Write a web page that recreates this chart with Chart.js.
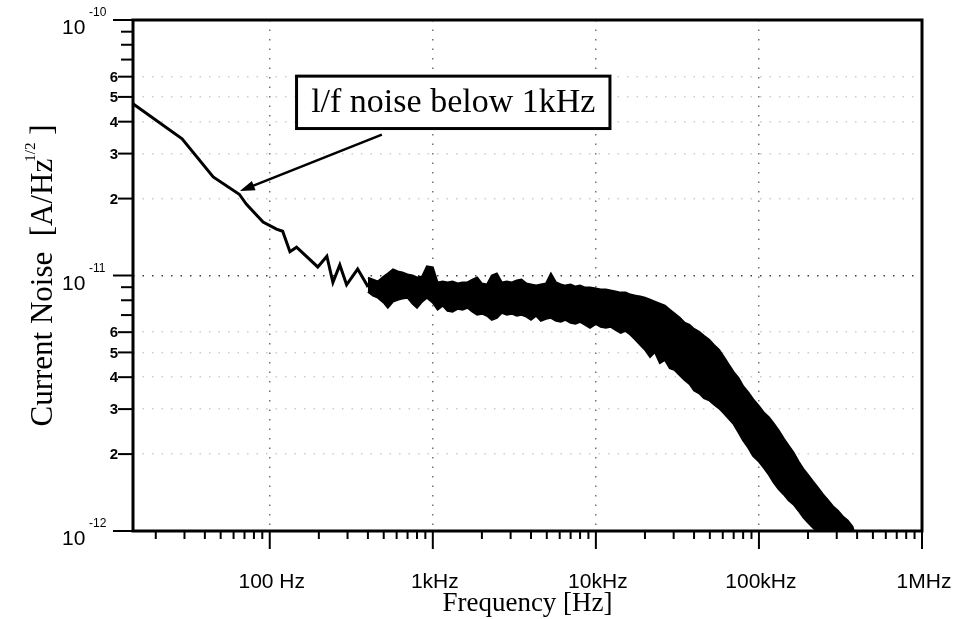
<!DOCTYPE html>
<html>
<head>
<meta charset="utf-8">
<script src="https://cdn.jsdelivr.net/npm/chart.js@4.4.1/dist/chart.umd.min.js"></script>
<style>
  html, body { margin: 0; padding: 0; background: #fff; }
</style>
</head>
<body>
<canvas id="noiseChart" width="957" height="619"></canvas>
<script>
// values; noise in pA/sqrt(Hz)
var lowFreq  = [14.5, 15, 29, 45, 65, 72, 91, 110, 120, 133, 146, 197, 224, 244, 269, 296, 346, 394, 400];
var lowNoise = [47, 46.3, 34.3, 24.3, 20.8, 19.0, 16.2, 15.2, 14.9, 12.4, 12.9, 10.8, 11.9, 9.4, 11.0, 9.2, 10.6, 9.2, 9.0];

// the noisy band above ~400 Hz: upper and lower edge of the trace
var bandFreq = [
  400, 430, 460, 500, 530, 570, 610, 650, 700, 750,
  800, 860, 920, 1000, 1070, 1150, 1230, 1320, 1420, 1520,
  1630, 1750, 1870, 2000, 2150, 2300, 2470, 2650, 2840, 3050,
  3270, 3500, 3750, 4000, 4300, 4600, 4950, 5300, 5700, 6100,
  6500, 7000, 7500, 8000, 8600, 9200, 10000, 10700, 11500, 12300,
  13200, 14200, 15200, 16300, 17500, 18700, 20000, 21500, 23000, 24700,
  26500, 28400, 30500, 32700, 35000, 37500, 40000, 43000, 46000, 49500,
  53000, 57000, 61000, 65000, 70000, 75000, 80000, 86000, 92000, 100000,
  107000, 115000, 123000, 132000, 142000, 152000, 163000, 175000, 187000, 200000,
  215000, 230000, 247000, 265000, 284000, 305000, 327000, 350000, 375000, 390000
];
var bandUpper = [
  9.8, 9.64, 9.47, 9.91, 10.18, 10.56, 10.37, 10.27, 10.09, 10.0,
  9.82, 9.91, 10.85, 10.75, 9.39, 9.47, 9.39, 9.47, 9.30, 9.39,
  9.39, 9.64, 9.82, 9.30, 9.22, 10.0, 10.18, 9.39, 9.47, 9.39,
  9.56, 9.64, 9.30, 9.22, 9.13, 9.22, 9.30, 10.18, 9.39, 9.22,
  9.13, 9.22, 9.05, 9.13, 8.97, 8.97, 8.89, 8.81, 8.81, 8.73,
  8.65, 8.57, 8.57, 8.42, 8.34, 8.27, 8.19, 8.04, 7.90, 7.76,
  7.62, 7.35, 7.09, 6.83, 6.53, 6.41, 6.18, 6.02, 5.81, 5.60,
  5.35, 5.12, 4.80, 4.50, 4.19, 3.97, 3.69, 3.49, 3.28, 3.08,
  2.91, 2.79, 2.64, 2.48, 2.30, 2.16, 2.03, 1.87, 1.75, 1.66,
  1.56, 1.48, 1.39, 1.32, 1.25, 1.20, 1.14, 1.10, 1.04, 0.95
];
var bandLower = [
  8.65, 8.34, 8.19, 7.83, 7.48, 7.90, 8.04, 8.12, 8.19, 7.76,
  7.48, 7.90, 8.19, 7.83, 7.35, 7.62, 7.28, 7.22, 7.41, 7.35,
  7.48, 7.22, 7.02, 7.09, 6.96, 6.71, 6.83, 7.15, 7.02, 7.09,
  6.96, 7.02, 6.90, 6.71, 6.96, 6.65, 6.77, 6.83, 6.65, 6.59,
  6.71, 6.53, 6.47, 6.59, 6.41, 6.24, 6.47, 6.30, 6.24, 6.30,
  6.13, 5.96, 6.07, 5.86, 5.60, 5.35, 5.12, 4.80, 5.02, 4.54,
  4.67, 4.34, 4.26, 4.07, 3.90, 3.76, 3.55, 3.46, 3.31, 3.25,
  3.13, 3.02, 2.89, 2.76, 2.62, 2.43, 2.26, 2.12, 1.97, 1.87,
  1.77, 1.66, 1.55, 1.46, 1.39, 1.32, 1.27, 1.20, 1.13, 1.08,
  1.03, 0.99, 0.96, 0.95, 0.95, 0.95, 0.95, 0.95, 0.95, 0.95
];

var xTickValues = [100, 1000, 10000, 100000, 1000000];
var xTickLabels = ['100 Hz', '1kHz', '10kHz', '100kHz', '1MHz'];
var yDecades = [1e-12, 1e-11, 1e-10];
var yDecadeExponents = ['-12', '-11', '-10'];
var yMantissaLabels = ['2', '3', '4', '5', '6'];

var PA = 1e-12;
var SANS = '"Liberation Sans", Arial, sans-serif';
var SERIF = '"Liberation Serif", "Times New Roman", serif';

function toPoints(xs, ys) {
  return xs.map(function(x, i) { return { x: x, y: ys[i] * PA }; });
}

function decadeTicks(first, last) {
  var out = [];
  for (var d = first; d < last * 0.999; d *= 10) {
    for (var m = 1; m <= 9; m++) out.push({ value: m * d });
  }
  out.push({ value: last });
  return out;
}

function mantissa(v) {
  var e = Math.floor(Math.log10(v) + 1e-9);
  return Math.round(v / Math.pow(10, e));
}

function line(ctx, x1, y1, x2, y2) {
  ctx.beginPath();
  ctx.moveTo(x1, y1);
  ctx.lineTo(x2, y2);
  ctx.stroke();
}

var decorPlugin = {
  id: 'decor',
  afterDraw: function(chart) {
    var ctx = chart.ctx;
    var area = chart.chartArea;
    var xs = chart.scales.x;
    var ys = chart.scales.y;
    ctx.save();

    // frame
    ctx.strokeStyle = '#000';
    ctx.lineWidth = 3;
    ctx.strokeRect(area.left, area.top, area.right - area.left, area.bottom - area.top);

    // x ticks below the axis
    ctx.lineWidth = 2;
    xs.ticks.forEach(function(t) {
      var px = xs.getPixelForValue(t.value);
      var major = xTickValues.indexOf(t.value) >= 0;
      line(ctx, px, area.bottom, px, area.bottom + (major ? 18 : 8));
    });
    ctx.fillStyle = '#000';
    ctx.font = '21px ' + SANS;
    ctx.textAlign = 'center';
    ctx.textBaseline = 'alphabetic';
    xTickValues.forEach(function(v, i) {
      ctx.fillText(xTickLabels[i], xs.getPixelForValue(v) + 2, 588);
    });

    // y ticks left of the axis
    ys.ticks.forEach(function(t) {
      var py = ys.getPixelForValue(t.value);
      var m = mantissa(t.value);
      var len = m === 1 ? 20 : (m <= 6 ? 15 : 12);
      line(ctx, area.left - len, py, area.left, py);
    });
    ctx.textAlign = 'right';
    ctx.font = 'bold 15px ' + SANS;
    ctx.textBaseline = 'middle';
    ys.ticks.forEach(function(t) {
      var m = mantissa(t.value);
      var idx = yMantissaLabels.indexOf(String(m));
      if (idx >= 0) ctx.fillText(yMantissaLabels[idx], area.left - 15, ys.getPixelForValue(t.value) + 1);
    });
    yDecades.forEach(function(v, i) {
      var py = ys.getPixelForValue(v);
      ctx.textAlign = 'left';
      ctx.textBaseline = 'alphabetic';
      ctx.font = '21px ' + SANS;
      ctx.fillText('10', 62, py + 14);
      ctx.font = '12px ' + SANS;
      ctx.fillText(yDecadeExponents[i], 89, py - 4);
    });

    // axis titles
    ctx.font = '27px ' + SERIF;
    ctx.textAlign = 'center';
    ctx.fillText('Frequency [Hz]', (area.left + area.right) / 2, 611);

    ctx.save();
    ctx.translate(52, 274);
    ctx.rotate(-Math.PI / 2);
    var partA = 'Current Noise  [A/Hz';
    var partC = ' ]';
    ctx.font = '31px ' + SERIF;
    var wA = ctx.measureText(partA).width;
    var wC = ctx.measureText(partC).width;
    ctx.font = '15px ' + SERIF;
    var wB = ctx.measureText('1/2').width;
    var x0 = -(wA + wB + wC) / 2;
    ctx.textAlign = 'left';
    ctx.font = '31px ' + SERIF;
    ctx.fillText(partA, x0, 0);
    ctx.font = '15px ' + SERIF;
    ctx.fillText('1/2', x0 + wA - 3, -17);
    ctx.font = '31px ' + SERIF;
    ctx.fillText(partC, x0 + wA + wB - 3, 0);
    ctx.restore();

    // annotation box and arrow
    var bx1 = xs.getPixelForValue(146), bx2 = xs.getPixelForValue(12200);
    var by1 = ys.getPixelForValue(6.03e-11), by2 = ys.getPixelForValue(3.76e-11);
    ctx.fillStyle = '#fff';
    ctx.fillRect(bx1, by1, bx2 - bx1, by2 - by1);
    ctx.lineWidth = 3;
    ctx.strokeRect(bx1, by1, bx2 - bx1, by2 - by1);
    ctx.fillStyle = '#000';
    ctx.font = '34px ' + SERIF;
    ctx.textAlign = 'center';
    ctx.textBaseline = 'middle';
    ctx.fillText('l/f noise below 1kHz', (bx1 + bx2) / 2, (by1 + by2) / 2 + 1);

    var ax1 = xs.getPixelForValue(487), ay1 = ys.getPixelForValue(3.56e-11);
    var ax2 = xs.getPixelForValue(65.5), ay2 = ys.getPixelForValue(2.14e-11);
    var ang = Math.atan2(ay2 - ay1, ax2 - ax1);
    ctx.lineWidth = 2.5;
    line(ctx, ax1, ay1, ax2 - 10 * Math.cos(ang), ay2 - 10 * Math.sin(ang));
    ctx.beginPath();
    ctx.moveTo(ax2, ay2);
    ctx.lineTo(ax2 - 15 * Math.cos(ang) + 5 * Math.sin(ang), ay2 - 15 * Math.sin(ang) - 5 * Math.cos(ang));
    ctx.lineTo(ax2 - 15 * Math.cos(ang) - 5 * Math.sin(ang), ay2 - 15 * Math.sin(ang) + 5 * Math.cos(ang));
    ctx.closePath();
    ctx.fill();

    ctx.restore();
  }
};

new Chart(document.getElementById('noiseChart'), {
  type: 'line',
  data: {
    datasets: [
      {
        data: toPoints(lowFreq, lowNoise),
        borderColor: '#000',
        borderWidth: 3,
        pointRadius: 0,
        fill: false
      },
      {
        data: toPoints(bandFreq, bandUpper),
        borderColor: '#000',
        borderWidth: 2,
        pointRadius: 0,
        fill: false
      },
      {
        data: toPoints(bandFreq, bandLower),
        borderColor: '#000',
        borderWidth: 2,
        backgroundColor: '#000',
        pointRadius: 0,
        fill: '-1'
      }
    ]
  },
  options: {
    responsive: false,
    animation: false,
    events: [],
    layout: { padding: { left: 0, right: 35, top: 20, bottom: 0 } },
    plugins: {
      legend: { display: false },
      tooltip: { enabled: false }
    },
    scales: {
      x: {
        type: 'logarithmic',
        min: 14.5,
        max: 1e6,
        afterBuildTicks: function(scale) { scale.ticks = decadeTicks(10, 1e6).filter(function(t) { return t.value >= 20; }); },
        afterFit: function(scale) { scale.height = 88; },
        ticks: { display: false },
        border: { display: false, dash: [1.5, 8] },
        grid: {
          drawTicks: false,
          lineWidth: 1.5,
          color: function(c) {
            var v = c.tick && c.tick.value;
            return (xTickValues.indexOf(v) >= 0 && v < 1e6) ? 'rgba(0,0,0,0.55)' : 'rgba(0,0,0,0)';
          }
        }
      },
      y: {
        type: 'logarithmic',
        min: 1e-12,
        max: 1e-10,
        afterBuildTicks: function(scale) { scale.ticks = decadeTicks(1e-12, 1e-10); },
        afterFit: function(scale) { scale.width = 133; },
        ticks: { display: false },
        border: { display: false, dash: [1.5, 8] },
        grid: {
          drawTicks: false,
          lineWidth: 1.5,
          color: function(c) {
            var v = c.tick && c.tick.value;
            if (!v) return 'rgba(0,0,0,0)';
            var m = mantissa(v);
            if (Math.abs(v - 1e-11) < 1e-15) return 'rgba(0,0,0,0.75)';
            if (m >= 2 && m <= 6) return 'rgba(0,0,0,0.2)';
            return 'rgba(0,0,0,0)';
          }
        }
      }
    }
  },
  plugins: [decorPlugin]
});
</script>
</body>
</html>
